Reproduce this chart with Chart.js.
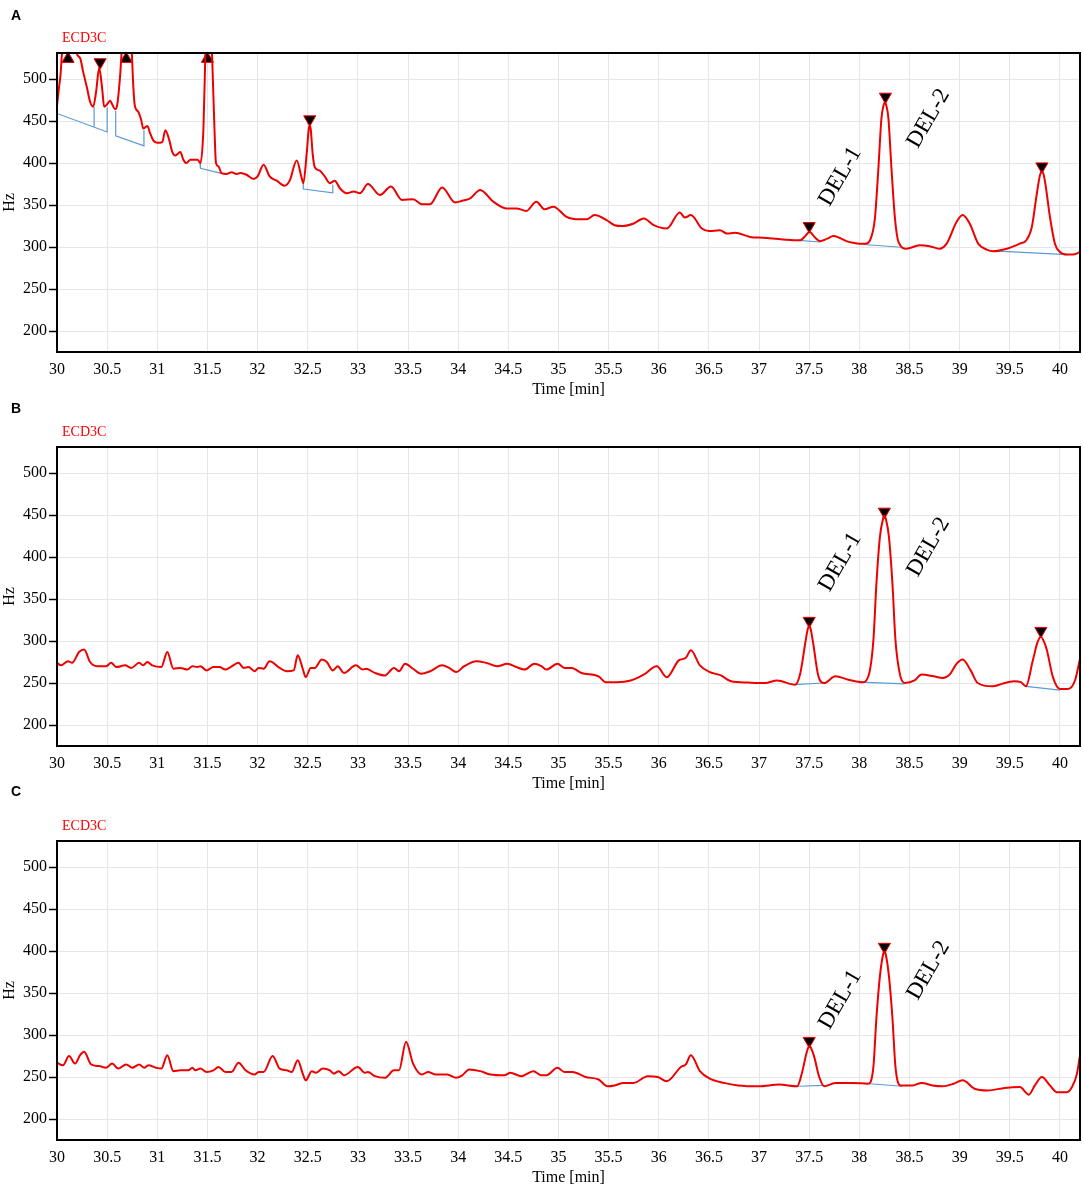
<!DOCTYPE html>
<html><head><meta charset="utf-8">
<script src="https://cdn.jsdelivr.net/npm/chart.js@4.4.1/dist/chart.umd.min.js"></script>
<style>
html,body{margin:0;padding:0;background:#fff;}
#wrap{position:relative;width:1084px;height:1187px;overflow:hidden;}
.panel{position:absolute;left:0;width:1084px;height:404px;}
.letter{position:absolute;left:11px;font:bold 14px "Liberation Sans",Arial,sans-serif;color:#000;line-height:16px;}
</style></head>
<body><div id="wrap">
<div class="panel" style="top:0px"><canvas id="cA" width="1084" height="404"></canvas></div>
<div class="panel" style="top:394px"><canvas id="cB" width="1084" height="404"></canvas></div>
<div class="panel" style="top:788px"><canvas id="cC" width="1084" height="404"></canvas></div>
<div class="letter" style="top:7px">A</div>
<div class="letter" style="top:400px">B</div>
<div class="letter" style="top:783px">C</div>
</div>
<script>
// ---------- tick labels ----------
const xTicks = [30,30.5,31,31.5,32,32.5,33,33.5,34,34.5,35,35.5,36,36.5,37,37.5,38,38.5,39,39.5,40];
const xTickLabels = ["30","30.5","31","31.5","32","32.5","33","33.5","34","34.5","35","35.5","36","36.5","37","37.5","38","38.5","39","39.5","40"];
const yTicks = [200,250,300,350,400,450,500];
const yTickLabels = ["200","250","300","350","400","450","500"];
const channelName = "ECD3C";
const xTitle = "Time [min]";
const yTitle = "Hz";

// ---------- panel A ----------
const timeA = [30.00,30.02,30.035,30.05,30.08,30.12,30.17,30.196,30.23,30.26,30.30,30.33,30.36,30.39,30.42,30.45,30.47,30.50,30.53,30.55,30.58,30.60,30.63,30.645,30.69,30.745,30.76,30.775,30.81,30.84,30.86,30.90,30.93,30.96,31.00,31.05,31.08,31.12,31.15,31.18,31.23,31.26,31.29,31.33,31.40,31.43,31.46,31.48,31.51,31.545,31.57,31.585,31.61,31.64,31.69,31.74,31.79,31.83,31.89,31.96,32.00,32.06,32.12,32.19,32.27,32.32,32.39,32.44,32.456,32.49,32.51,32.52,32.53,32.55,32.57,32.62,32.67,32.72,32.77,32.82,32.89,32.96,33.02,33.10,33.22,33.33,33.44,33.55,33.64,33.72,33.84,33.97,34.04,34.12,34.22,34.35,34.48,34.58,34.68,34.78,34.86,34.95,35.08,35.21,35.28,35.36,35.48,35.56,35.64,35.75,35.85,35.95,36.08,36.21,36.26,36.32,36.43,36.50,36.61,36.68,36.76,36.91,37.04,37.24,37.41,37.46,37.49,37.507,37.525,37.56,37.607,37.68,37.74,37.80,37.87,37.94,38.00,38.06,38.106,38.155,38.19,38.22,38.24,38.255,38.27,38.29,38.32,38.355,38.39,38.47,38.60,38.70,38.80,38.87,38.97,39.03,39.10,39.185,39.27,39.335,39.47,39.60,39.665,39.72,39.77,39.80,39.82,39.84,39.86,39.90,39.95,40.00,40.07,40.13,40.20];
const hzA = [468,490,505,531,560,590,565,531,525,509,489,473,467,485,513,489,467,470,474,470,464,469,505,533,590,533,493,469,461,451,441,444,435,427,424,425,439,427,413,409,413,404,400,404,404,400,441,533,620,533,441,400,396,388,387,389,387,388,386,381,384,398,384,379,373,379,403,382,376,412,440,445,440,410,395,391,384,376,379,370,364,366,364,375,362,372,356,357,351,351,371,353,355,358,368,354,346,346,343,354,345,348,336,333,333,338,332,326,325,328,334,326,322,341,335,338,322,319,320,316,317,312,311,309,308,313,317,318,316,311,307,310,313,311,307,305,304,304,308,334,394,453,468,472,468,453,394,334,306,298,302,301,298,304,330,338,328,304,297,295,298,304,308,324,364,385,390,385,371,336,304,294,291,291,294];
const baseTimeA = [30.00,30.50,30.50,null,30.37,30.37,null,30.585,30.585,30.867,30.867,null,31.426,31.43,31.64,null,32.456,32.456,32.75,32.75,null,37.39,37.61,null,38.04,38.42,null,39.335,40.07];
const baseHzA = [459,437,466,null,442.7,467,null,462,432.5,420.5,439,null,400,393.6,387.6,null,376,369,364.5,374,null,308,306,null,303,299.7,null,295.4,291];
const markTimeA = [30.11,30.43,30.69,31.50,32.52,37.50,38.26,39.82];
const markHzA = [524,520,524,524,452,325,479,396];
const markUpA = [true,false,true,true,false,false,false,false];

// ---------- panel B ----------
const timeB = [30.00,30.04,30.11,30.15,30.22,30.27,30.33,30.40,30.49,30.54,30.59,30.68,30.74,30.82,30.86,30.90,30.95,31.04,31.10,31.16,31.23,31.30,31.35,31.40,31.43,31.49,31.56,31.62,31.68,31.73,31.81,31.86,31.91,31.97,32.01,32.06,32.12,32.22,32.29,32.36,32.40,32.45,32.48,32.53,32.57,32.64,32.69,32.75,32.80,32.86,32.98,33.05,33.08,33.17,33.27,33.36,33.41,33.47,33.55,33.63,33.72,33.84,33.91,33.98,34.06,34.18,34.28,34.39,34.49,34.58,34.66,34.76,34.83,34.88,34.99,35.06,35.13,35.23,35.40,35.47,35.58,35.72,35.85,35.98,36.08,36.20,36.27,36.32,36.41,36.51,36.62,36.72,36.89,37.06,37.18,37.36,37.41,37.46,37.485,37.50,37.515,37.54,37.59,37.65,37.76,37.89,38.03,38.09,38.14,38.17,38.205,38.235,38.25,38.265,38.295,38.33,38.36,38.405,38.455,38.55,38.62,38.74,38.83,38.90,38.97,39.03,39.11,39.18,39.33,39.42,39.54,39.61,39.66,39.73,39.775,39.81,39.845,39.87,39.93,40.00,40.08,40.15,40.20];
const hzB = [274,271,276,274,287,290,275,270,270,274,269,271,268,274,271,275,271,269,287,267,268,266,270,269,270,265,269,269,266,269,274,268,269,264,268,267,276,268,264,265,283,267,257,268,268,278,275,265,270,262,271,266,267,262,259,268,264,273,267,261,264,271,268,263,270,276,274,270,273,269,266,273,270,266,273,268,268,262,258,251,251,253,260,270,257,277,280,289,271,263,259,252,250.5,250,253,248,261,297,314,318,314,297,259,250,258,254,251,258,301,368,424,445,449,445,424,368,301,260,250,253,260,258,256,260,273,278,265,250,246,249,252,251,246,277,298,305,298,289,257,243,243,253,279];
const baseTimeB = [37.36,37.64,null,38.00,38.45,null,39.66,40.00];
const baseHzB = [248,250,null,251,249,null,246,241.5];
const markTimeB = [37.50,38.25,39.81];
const markHzB = [324,454,312];
const markUpB = [false,false,false];

// ---------- panel C ----------
const timeC = [30.00,30.06,30.12,30.18,30.23,30.27,30.34,30.42,30.49,30.55,30.61,30.69,30.75,30.82,30.87,30.91,30.99,31.04,31.10,31.16,31.23,31.31,31.35,31.38,31.43,31.49,31.56,31.61,31.68,31.74,31.81,31.88,31.97,32.01,32.06,32.15,32.22,32.29,32.34,32.40,32.45,32.48,32.54,32.58,32.65,32.72,32.76,32.81,32.86,33.00,33.07,33.10,33.17,33.27,33.36,33.41,33.48,33.55,33.64,33.70,33.77,33.89,33.98,34.04,34.11,34.22,34.32,34.46,34.52,34.63,34.75,34.83,34.88,34.99,35.06,35.14,35.27,35.40,35.49,35.56,35.65,35.75,35.89,35.99,36.08,36.22,36.27,36.32,36.41,36.51,36.65,36.79,37.00,37.20,37.38,37.43,37.47,37.49,37.505,37.52,37.55,37.60,37.65,37.76,37.94,38.09,38.14,38.17,38.205,38.235,38.25,38.265,38.295,38.33,38.36,38.41,38.53,38.62,38.73,38.83,38.94,39.03,39.15,39.28,39.45,39.60,39.69,39.75,39.82,39.90,39.97,40.07,40.12,40.17,40.20];
const hzC = [267,264,275,266,276,280,265,263,261,266,260,265,261,265,261,264,261,260,276,257,258,258,261,258,260,256,258,262,256,256,267,258,253,256,256,275,260,258,256,270,254,246,257,255,260,258,254,257,252,262,255,256,251,249,258,258,292,266,253,256,253,253,249,252,259,257,253,252,255,251,257,252,252,261,256,256,250,247,239,240,243,243,251,250,245,262,265,276,257,248,243,240,239,241,239,256,277,285,287,284,274,250,239,243,243,242,262,320,370,395,399,395,370,320,262,240,240,243,240,239,242,246,236,234,237,238,229,240,250,240,232,232,238,254,276];
const baseTimeC = [37.39,37.65,null,38.10,38.43];
const baseHzC = [239,240,null,242,239];
const markTimeC = [37.50,38.25];
const markHzC = [293,405];
const markUpC = [false,false];

// ---------- peak labels ----------
const peakLabels = ["DEL-1","DEL-2"];
const peakLabelTimeA = [37.81,38.69]; const peakLabelHzA = [384,453];
const peakLabelTimeB = [37.81,38.69]; const peakLabelHzB = [394,412];
const peakLabelTimeC = [37.81,38.69]; const peakLabelHzC = [342,377];

// ---------- build ----------
const SERIF = '"Liberation Serif","Times New Roman",serif';
function pts(t, h){ return t.map((v,i)=>({x: v===null ? (t[i-1]||30) : v, y: h[i]})); }

const framePlugin = {
  id:'framePlugin',
  afterDraw(chart, args, opts){
    const {ctx, chartArea:a, scales:{x,y}} = chart;
    ctx.save();
    ctx.strokeStyle='#000'; ctx.lineWidth=2;
    ctx.strokeRect(a.left, a.top, a.right-a.left, a.bottom-a.top);
    ctx.fillStyle='#ff0000'; ctx.font='14px '+SERIF; ctx.textAlign='left'; ctx.textBaseline='middle';
    ctx.fillText(channelName, a.left+5, 38);
    ctx.fillStyle='#000'; ctx.font='16px '+SERIF; ctx.textAlign='center';
    ctx.fillText(xTitle, (a.left+a.right)/2, a.bottom+38);
    ctx.save(); ctx.translate(10,(a.top+a.bottom)/2); ctx.rotate(-Math.PI/2);
    ctx.fillText(yTitle,0,0); ctx.restore();
    ctx.font='23px '+SERIF;
    opts.labels.forEach((lab,i)=>{
      const px = x.getPixelForValue(opts.lt[i]); const py = y.getPixelForValue(opts.lh[i]);
      ctx.save(); ctx.translate(px,py); ctx.rotate(-Math.PI/3);
      ctx.fillText(lab,0,0); ctx.restore();
    });
    ctx.restore();
  }
};

function makeChart(id, t, h, bt, bh, mt, mh, mu, lt, lh){
  new Chart(document.getElementById(id), {
    type:'line',
    data:{datasets:[
      {data:pts(t,h), borderColor:'#ee0000', borderWidth:2, pointRadius:0, cubicInterpolationMode:'monotone', order:0},
      {type:'scatter', data:pts(mt,mh), showLine:false, pointStyle:'triangle', pointRadius:7, pointHoverRadius:7,
       pointRotation: mu.map(u=>u?0:180), backgroundColor:'#000', borderColor:'#ee0000', borderWidth:1, order:1, clip:false},
      {data:pts(bt,bh), borderColor:'#5b9bd5', borderWidth:1.2, pointRadius:0, spanGaps:false, tension:0, order:2}
    ]},
    options:{
      responsive:false, maintainAspectRatio:false, animation:false,
      layout:{autoPadding:false, padding:{left:0,right:4,top:53,bottom:0}},
      plugins:{legend:{display:false}, tooltip:{enabled:false},
        framePlugin:{labels:peakLabels, lt:lt, lh:lh}},
      scales:{
        x:{type:'linear', min:30, max:40.2,
          afterBuildTicks:(s)=>{s.ticks = xTicks.map(v=>({value:v}));},
          afterFit:(s)=>{s.height=52; s.paddingLeft=0; s.paddingRight=0;},
          ticks:{autoSkip:false, maxRotation:0, padding:8, color:'#000', font:{family:SERIF,size:16},
            callback:(v)=>{const i=xTicks.indexOf(v); return i>=0?xTickLabels[i]:'';}},
          grid:{color:'#e6e6e6', lineWidth:1, drawTicks:false},
          border:{display:false}
        },
        y:{type:'linear', min:175, max:531,
          afterBuildTicks:(s)=>{s.ticks = yTicks.map(v=>({value:v}));},
          afterFit:(s)=>{s.width=57; s.paddingTop=0; s.paddingBottom=0;},
          ticks:{padding:2, color:'#000', font:{family:SERIF,size:16},
            callback:(v)=>{const i=yTicks.indexOf(v); return i>=0?yTickLabels[i]:'';}},
          grid:{color:'#e6e6e6', lineWidth:1, drawTicks:true, tickLength:8, tickColor:'#000', tickWidth:1.5},
          border:{display:false}
        }
      }
    },
    plugins:[framePlugin]
  });
}
makeChart('cA', timeA, hzA, baseTimeA, baseHzA, markTimeA, markHzA, markUpA, peakLabelTimeA, peakLabelHzA);
makeChart('cB', timeB, hzB, baseTimeB, baseHzB, markTimeB, markHzB, markUpB, peakLabelTimeB, peakLabelHzB);
makeChart('cC', timeC, hzC, baseTimeC, baseHzC, markTimeC, markHzC, markUpC, peakLabelTimeC, peakLabelHzC);
</script>
</body></html>
